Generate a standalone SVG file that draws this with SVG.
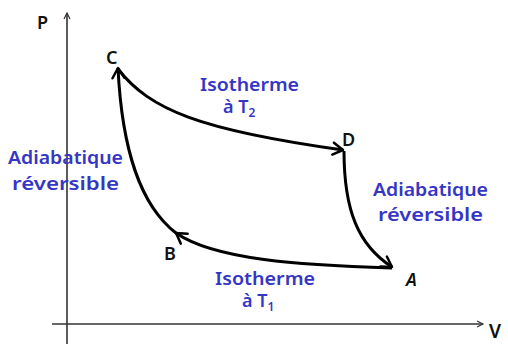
<svg xmlns="http://www.w3.org/2000/svg" width="508" height="344" viewBox="0 0 508 344">
<defs>
<marker id="arr" viewBox="-12 -8 14 16" markerWidth="14" markerHeight="16" refX="0" refY="0" orient="auto" markerUnits="userSpaceOnUse">
<path d="M-10,-6 L0,0 L-10,6" fill="none" stroke="#000" stroke-width="2.5" stroke-linecap="round" stroke-linejoin="round"/>
</marker>
<marker id="ax" viewBox="-8 -5 10 10" markerWidth="10" markerHeight="10" refX="0" refY="0" orient="auto" markerUnits="userSpaceOnUse">
<path d="M-6,-3 L0,0 L-6,3" fill="none" stroke="#333" stroke-width="1.2"/>
</marker>
</defs>
<style>
.axis{stroke:#333;stroke-width:1.6;fill:none}
.curve{stroke:#000;stroke-width:3;fill:none;marker-end:url(#arr)}
.lab{font-family:"Noto Sans","DejaVu Sans",sans-serif;font-size:18px;font-weight:600;fill:#3636c4}
.pt{font-family:"Noto Sans","DejaVu Sans",sans-serif;font-size:18px;font-weight:600;fill:#111}
</style>
<rect width="508" height="344" fill="#fff"/>
<g id="axes">
<line class="axis" x1="67" y1="344" x2="67" y2="13" marker-end="url(#ax)"/>
<line class="axis" x1="52" y1="324" x2="483" y2="324" marker-end="url(#ax)"/>
<text class="pt" x="37" y="29">P</text>
<text class="pt" x="489" y="338" style="font-size:19px">V</text>
</g>
<g id="connectors">
<path id="CD" class="curve" d="M118,69 C150,110 200,130 343,150"/>
<path id="DA" class="curve" d="M344,151 C344,210 358,245 392,267"/>
<path id="AB" class="curve" d="M392,268 C300,265 215,260 176,233"/>
<path id="BC" class="curve" d="M176,233 C140,205 122,150 118,68"/>
</g>
<g id="node-C"><text class="pt" x="106" y="64">C</text></g>
<g id="node-D"><text class="pt" x="342" y="146">D</text></g>
<g id="node-A"><text class="pt" x="406" y="286" font-style="italic">A</text></g>
<g id="node-B"><text class="pt" x="164" y="260">B</text></g>
<g id="label-T2">
<text class="lab" x="200" y="91" textLength="99" lengthAdjust="spacingAndGlyphs">Isotherme</text>
<text class="lab" x="223" y="113">à T<tspan font-size="12" dy="4">2</tspan></text>
</g>
<g id="label-T1">
<text class="lab" x="215" y="285" textLength="100" lengthAdjust="spacingAndGlyphs">Isotherme</text>
<text class="lab" x="242" y="307">à T<tspan font-size="12" dy="4">1</tspan></text>
</g>
<g id="label-adia-left">
<text class="lab" x="8" y="164" textLength="115" lengthAdjust="spacingAndGlyphs">Adiabatique</text>
<text class="lab" x="12" y="190" textLength="107" lengthAdjust="spacingAndGlyphs">réversible</text>
</g>
<g id="label-adia-right">
<text class="lab" x="373" y="196" textLength="115" lengthAdjust="spacingAndGlyphs">Adiabatique</text>
<text class="lab" x="378" y="221" textLength="105" lengthAdjust="spacingAndGlyphs">réversible</text>
</g>
</svg>
